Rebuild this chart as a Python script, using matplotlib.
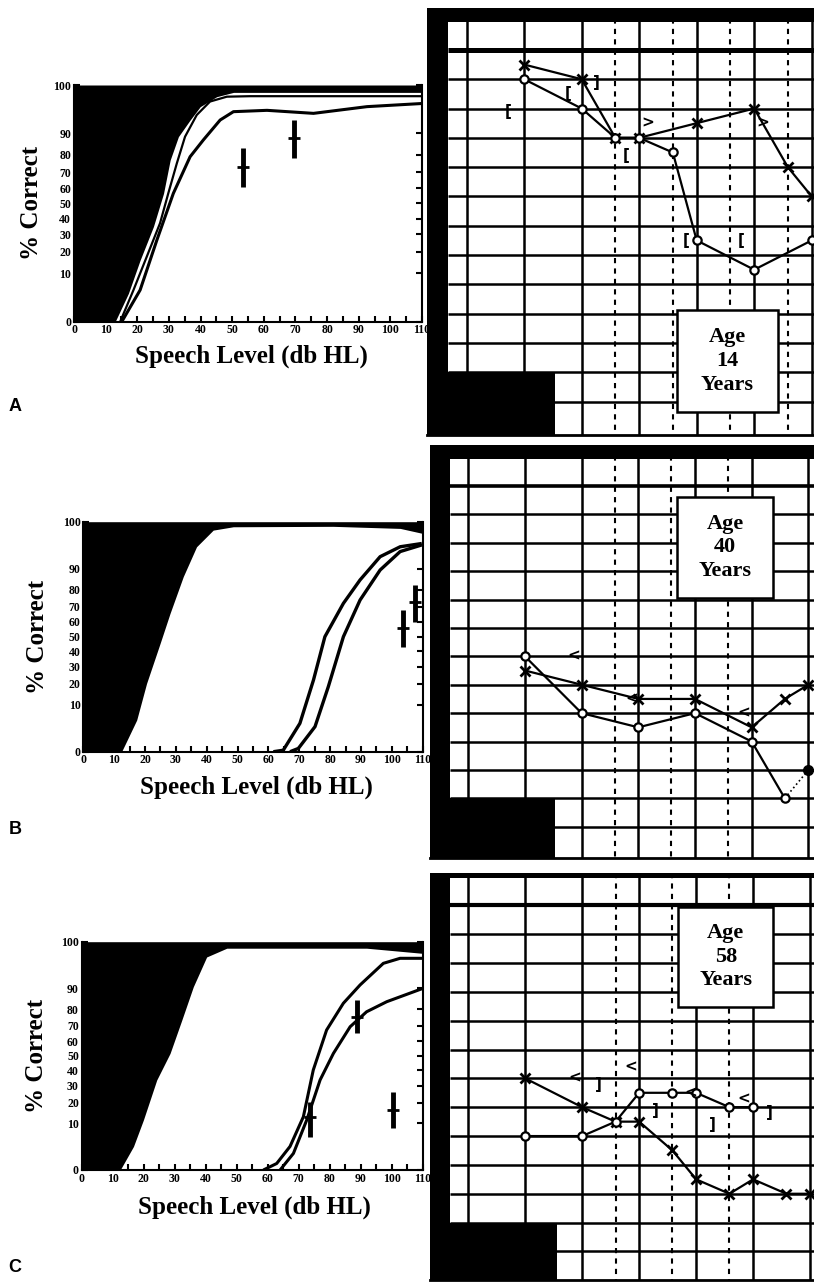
import numpy as np
import matplotlib.pyplot as plt
from matplotlib.patches import Rectangle

W, H = 814, 1287
plt.rcParams['font.family'] = ['Liberation Serif', 'DejaVu Serif']
plt.rcParams['font.weight'] = 'bold'
plt.rcParams['axes.labelweight'] = 'bold'

################################################################
# performance-intensity functions: speech level (dB HL) vs % correct
pct_ticks = [0, 10, 20, 30, 40, 50, 60, 70, 80, 90, 100]
db_ticks = [0, 10, 20, 30, 40, 50, 60, 70, 80, 90, 100, 110]

# panel A (age 14)
a_norm_db = [0, 13.0, 17.2, 20.9, 25.1, 28.3, 30.4, 33.0, 36.7, 39.9, 45.1, 50.4, 80, 110]
a_norm_pct = [0, 0, 3.5, 15.8, 34.8, 56.6, 77.2, 88.7, 94.7, 97.95, 99.4, 99.76, 99.76, 99.76]
a_pi1_db = [14.6, 18.8, 23.0, 27.2, 29.8, 32.5, 35.1, 38.8, 43.0, 48.3, 55.7, 80, 110]
a_pi1_pct = [0, 4.35, 17.5, 37, 56.6, 75.3, 88.7, 96.1, 98.8, 99.4, 99.45, 99.45, 99.45]
a_pi2_db = [15.1, 20.9, 26.2, 31.4, 36.7, 40.9, 46.2, 50.4, 61, 75.7, 92.6, 110]
a_pi2_pct = [0, 4.35, 26.6, 56.6, 79, 87.3, 94.7, 96.9, 97.2, 96.5, 97.95, 98.5]
a_bar_db = [53.3, 69.4]
a_bar_lo = [61, 78.1]
a_bar_hi = [83.4, 94.7]
a_bar_mid = [73.4, 88.1]

# panel B (age 40)
b_norm_db = [0, 12.4, 17.3, 20.5, 24.9, 28.1, 32.4, 36.7, 42.1, 48.6, 81, 102.7, 110]
b_norm_pct = [0, 0, 4.6, 20.2, 45.5, 65.6, 86.6, 97.1, 99.67, 99.88, 99.9, 99.79, 99.36]
b_pi1_db = [61.6, 64.8, 70.2, 74.6, 78.3, 84.3, 89.7, 96.2, 102.7, 109.7]
b_pi1_pct = [0, 0.01, 3.7, 22.1, 50, 72, 85, 94.4, 97.1, 97.8]
b_pi2_db = [67, 69.7, 75.1, 79.4, 84.3, 89.7, 96.2, 102.7, 109.7]
b_pi2_pct = [0, 0.05, 2.9, 18.4, 50, 74, 89.5, 95.9, 97.5]
b_bar_db = [103.7, 107.5]
b_bar_lo = [43.2, 60.2]
b_bar_hi = [67.8, 82.4]
b_bar_mid = [55.7, 73]

# panel C (age 58)
c_norm_db = [0, 12.4, 16.7, 19.9, 24.2, 28.5, 32.3, 36, 40.3, 46.8, 91.9, 110]
c_norm_pct = [0, 0, 2.6, 11.4, 33.7, 51.7, 73.7, 90.7, 98.9, 99.8, 99.8, 99.36]
c_pi1_db = [58.6, 62.9, 67.2, 71.5, 74.7, 79.0, 84.4, 89.8, 97.3, 102.7, 110]
c_pi1_pct = [0, 0.2, 2.6, 12.8, 40.3, 67.4, 83.1, 91.4, 97.8, 98.7, 98.7]
c_pi2_db = [64, 68.3, 72.6, 76.9, 81.2, 86.6, 91.9, 98.4, 110]
c_pi2_pct = [0, 1.3, 11.4, 33.7, 51.7, 69.5, 78.5, 83.9, 90]
c_bar_db = [73.7, 88.7, 100.5]
c_bar_lo = [5.2, 65.2, 8]
c_bar_hi = [20.5, 84.7, 26.4]
c_bar_mid = [12.8, 75.6, 16.1]

################################################################
# audiograms: frequency (Hz) vs hearing level (dB HL)
solid_hz = [125, 250, 500, 1000, 2000, 4000, 8000]
dashed_hz = [750, 1500, 3000]
row_db = list(range(0, 121, 10))

a_re_hz = [250, 500, 750, 1000, 1500, 2000, 4000, 8000]
a_re_db = [10, 20, 30, 30, 35, 65, 75, 65]
a_le_hz = [250, 500, 750, 1000, 2000, 4000, 6000, 8000]
a_le_db = [5, 10, 30, 30, 25, 20, 40, 50]
a_bc_sym = ['[', '[', ']', '[', '>', '[', '[', '>']
a_bc_hz = [206, 425, 600, 850, 1105, 1760, 3400, 4450]
a_bc_db = [21, 15, 11, 36, 25, 65, 65, 25]

b_re_hz = [250, 500, 1000, 2000, 4000, 6000]
b_re_db = [60, 80, 85, 80, 90, 110]
b_re_extra_hz = [6000, 8000]
b_re_extra_db = [110, 100]
b_le_hz = [250, 500, 1000, 2000, 4000, 6000, 8000]
b_le_db = [65, 70, 75, 75, 85, 75, 70]
b_bc_sym = ['<', '<', '<']
b_bc_hz = [455, 920, 3610]
b_bc_db = [60, 75, 80]

c_re_hz = [250, 500, 750, 1000, 1500, 2000, 3000, 4000]
c_re_db = [80, 80, 75, 65, 65, 65, 70, 70]
c_le_hz = [250, 500, 750, 1000, 1500, 2000, 3000, 4000, 6000, 8000]
c_le_db = [60, 70, 75, 75, 85, 95, 100, 95, 100, 100]
c_bc_sym = ['<', ']', '<', ']', '<', ']', '<', ']']
c_bc_hz = [455, 610, 905, 1225, 1880, 2430, 3560, 4900]
c_bc_db = [60, 62, 56, 71, 65, 76, 67, 72]

ages = ['14', '40', '58']
################################################################

fig = plt.figure(figsize=(W / 100, H / 100), dpi=100)


def frac(l, t, r, b):
    return [l / W, 1 - b / H, (r - l) / W, (b - t) / H]


def asin_fwd(p):
    return np.degrees(np.arcsin(np.sqrt(np.clip(np.asarray(p, float), 0, 100) / 100)))


def asin_inv(v):
    return 100 * np.sin(np.radians(np.clip(np.asarray(v, float), 0, 90))) ** 2


def pi_panel(box, norm_db, norm_pct, curves, bars, lab_x, lab_y, ylab_x):
    ax = fig.add_axes(frac(*box))
    ax.set_yscale('function', functions=(asin_fwd, asin_inv))
    ax.fill_between(norm_db, norm_pct, 100, color='black', lw=0, zorder=1)
    for xs, ys, lw in curves:
        ax.plot(xs, ys, color='black', lw=lw, solid_capstyle='butt',
                solid_joinstyle='round', zorder=2)
    x, lo, hi, mid = bars
    ax.vlines(x, lo, hi, color='black', lw=3.5, zorder=3)
    ax.plot(x, mid, ls='none', marker='_', ms=9, mew=2, color='black', zorder=3)
    ax.set_xlim(0, 110)
    ax.set_ylim(0, 100)
    ax.set_xticks(db_ticks)
    ax.set_xticks(np.arange(5, 110, 10), minor=True)
    ax.set_yticks(pct_ticks)
    ax.set_yticks([], minor=True)
    ax.tick_params(axis='x', which='both', direction='in', length=4, width=1.5,
                   labelsize=8.5, pad=2, top=False)
    ax.tick_params(axis='y', direction='in', length=4, width=1.5, right=True,
                   labelsize=8.5, pad=2)
    ax.spines['top'].set_visible(False)
    for s in ['bottom', 'right', 'left']:
        ax.spines[s].set_linewidth(1.5)
    ax.set_xlabel('Speech Level (db HL)', fontsize=18)
    ax.set_ylabel('% Correct', fontsize=18)
    ax.xaxis.set_label_coords(lab_x, lab_y)
    ax.yaxis.set_label_coords(ylab_x, 0.5)
    return ax


def audiogram(box, hz_lim, db_lim, bot_left_hz, age_box, age,
              re, le, bc, extra=None, dashed=dashed_hz, zero_lw=3.0):
    l, t, r, b = box
    ax = fig.add_axes(frac(*box))
    ax.set_xscale('log')
    ax.set_xlim(*hz_lim)
    ax.set_ylim(db_lim[1], db_lim[0])
    ax.set_xticks([])
    ax.set_yticks([])
    ax.minorticks_off()
    for s in ['top', 'left', 'right']:
        ax.spines[s].set_visible(False)
    ax.spines['bottom'].set_linewidth(2)
    # grid
    ax.hlines(row_db[1:], 100, hz_lim[1], color='black', lw=1.8, zorder=1)
    ax.hlines([0], 100, hz_lim[1], color='black', lw=zero_lw, zorder=1)
    ax.vlines(solid_hz, db_lim[0], db_lim[1], color='black', lw=1.8, zorder=1)
    ax.vlines(dashed, db_lim[0], db_lim[1], color='black', lw=1.5,
              linestyles=(0, (2.5, 2.5)), zorder=1)
    # frame
    ax.add_patch(Rectangle((hz_lim[0], db_lim[0]), 100 - hz_lim[0], db_lim[1] - db_lim[0],
                           color='black', lw=0, zorder=2))
    ax.add_patch(Rectangle((hz_lim[0], db_lim[0]), hz_lim[1] - hz_lim[0], -9.5 - db_lim[0],
                           color='black', lw=0, zorder=2))
    ax.add_patch(Rectangle((hz_lim[0], 110), bot_left_hz - hz_lim[0], db_lim[1] - 110,
                           color='black', lw=0, zorder=2))
    # thresholds
    ax.plot(le[0], le[1], color='black', lw=1.6, marker='x', ms=7, mew=2, zorder=3)
    ax.plot(re[0], re[1], color='black', lw=1.6, marker='o', ms=6, mew=1.6,
            mfc='white', zorder=4)
    if extra is not None:
        ax.plot(extra[0], extra[1], color='black', lw=1.2, ls=':', zorder=3)
        ax.plot(extra[0][-1:], extra[1][-1:], ls='none', marker='o', ms=7,
                color='black', zorder=4)
    for s, f, d in zip(*bc):
        ax.text(f, d, s, ha='center', va='center', fontsize=11,
                family='DejaVu Sans', weight='bold', zorder=5)
    # age box
    x0, y0, x1, y1 = age_box
    bx = (x0 - l) / (r - l)
    by = (b - y1) / (b - t)
    bw = (x1 - x0) / (r - l)
    bh = (y1 - y0) / (b - t)
    ax.add_patch(Rectangle((bx, by), bw, bh, transform=ax.transAxes, facecolor='white',
                           edgecolor='black', lw=1.8, zorder=6))
    ax.text(bx + bw / 2, by + bh / 2, 'Age\n' + age + '\nYears', transform=ax.transAxes,
            ha='center', va='center', fontsize=16, linespacing=1.25, zorder=7)
    return ax


# left column
pi_panel((74, 85, 422, 321.7), a_norm_db, a_norm_pct,
         [(a_pi1_db, a_pi1_pct, 1.6), (a_pi2_db, a_pi2_pct, 2.2)],
         (a_bar_db, a_bar_lo, a_bar_hi, a_bar_mid), 0.509, -0.095, -0.09)
pi_panel((83.3, 521.7, 422.7, 751.7), b_norm_db, b_norm_pct,
         [(b_pi1_db, b_pi1_pct, 2.4), (b_pi2_db, b_pi2_pct, 2.4)],
         (b_bar_db, b_bar_lo, b_bar_hi, b_bar_mid), 0.511, -0.105, -0.10)
pi_panel((81.7, 941.7, 422.7, 1170), c_norm_db, c_norm_pct,
         [(c_pi1_db, c_pi1_pct, 2.2), (c_pi2_db, c_pi2_pct, 2.2)],
         (c_bar_db, c_bar_lo, c_bar_hi, c_bar_mid), 0.508, -0.112, -0.10)

# right column
audiogram((427, 8, 814, 435), (77.5, 8224), (-14.3, 131.4), 362,
          (676.7, 310, 778.3, 411.7), ages[0],
          (a_re_hz, a_re_db), (a_le_hz, a_le_db), (a_bc_sym, a_bc_hz, a_bc_db),
          dashed=dashed_hz + [6000], zero_lw=3.6)
audiogram((430, 445, 814, 858), (78.3, 8571), (-14.4, 131.0), 361,
          (676.7, 496.7, 773.3, 598.3), ages[1],
          (b_re_hz, b_re_db), (b_le_hz, b_le_db), (b_bc_sym, b_bc_hz, b_bc_db),
          extra=(b_re_extra_hz, b_re_extra_db), zero_lw=2.6)
audiogram((430, 873, 814, 1280), (78.4, 8397), (-11.2, 129.9), 366,
          (678.3, 906.7, 773.3, 1006.7), ages[2],
          (c_re_hz, c_re_db), (c_le_hz, c_le_db), (c_bc_sym, c_bc_hz, c_bc_db),
          zero_lw=3.0)

for letter, y in zip(['A', 'B', 'C'], [406, 829, 1268]):
    fig.text(15 / W, 1 - y / H, letter, family='Liberation Sans', weight='bold',
             fontsize=13, ha='center', va='center')

fig.savefig('out.png', dpi=100)
